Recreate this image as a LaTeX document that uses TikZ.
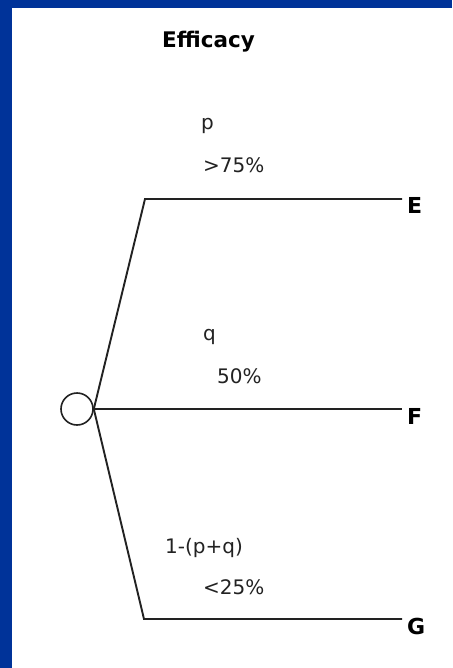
\documentclass[tikz,border=0pt]{standalone}
\usepackage{fontspec}
\setmainfont{DejaVu Sans}
\usepackage{xcolor}
\usepackage{tikz}

\definecolor{frameblue}{HTML}{003399}
\definecolor{inkgray}{HTML}{222222}

\begin{document}
\begin{tikzpicture}[
    x=1pt, y=-1pt,
    lbl/.style={inner sep=0pt, anchor=base west, text=inkgray, font=\fontsize{20}{24}\selectfont},
    endlbl/.style={inner sep=0pt, anchor=north west, font=\fontsize{22}{26}\selectfont\bfseries},
    branch/.style={draw=inkgray, line width=1.9pt}
]

% frame
\fill[white] (0,0) rectangle (452,668);
\fill[frameblue] (0,0) rectangle (452,8);
\fill[frameblue] (0,0) rectangle (12,668);
\useasboundingbox (0,0) rectangle (452,668);

\node[inner sep=0pt, anchor=base west, font=\fontsize{21.5}{25}\selectfont\bfseries] (title) at (162,48) {Efficacy};

% chance node and corners
\node[draw=inkgray, line width=1.6pt, circle, minimum size=32pt, inner sep=0pt] (root) at (77,409) {};
\coordinate (cE) at (145,199);
\coordinate (cF) at (93,409);
\coordinate (cG) at (144,619);

% outcomes
\node[endlbl] (nE) at (407,197) {E};
\node[endlbl] (nF) at (407,408) {F};
\node[endlbl] (nG) at (407,618) {G};

\draw[branch] (root.east) -- (cE) -- ([xshift=-5pt]nE.west |- cE);
\draw[branch] (root.east) -- ([xshift=-5pt]nF.west |- cF);
\draw[branch] (root.east) -- (cG) -- ([xshift=-5pt]nG.west |- cG);

% probabilities
\node[lbl] (pSym) at (201,130) {p};
\node[lbl] (pVal) at (203,173) {>75\%};
\node[lbl] (qSym) at (203,340) {q};
\node[lbl] (qVal) at (217,383) {50\%};
\node[lbl] (rSym) at (165,553) {1-(p+q)};
\node[lbl] (rVal) at (203,594) {<25\%};

\end{tikzpicture}
\end{document}
